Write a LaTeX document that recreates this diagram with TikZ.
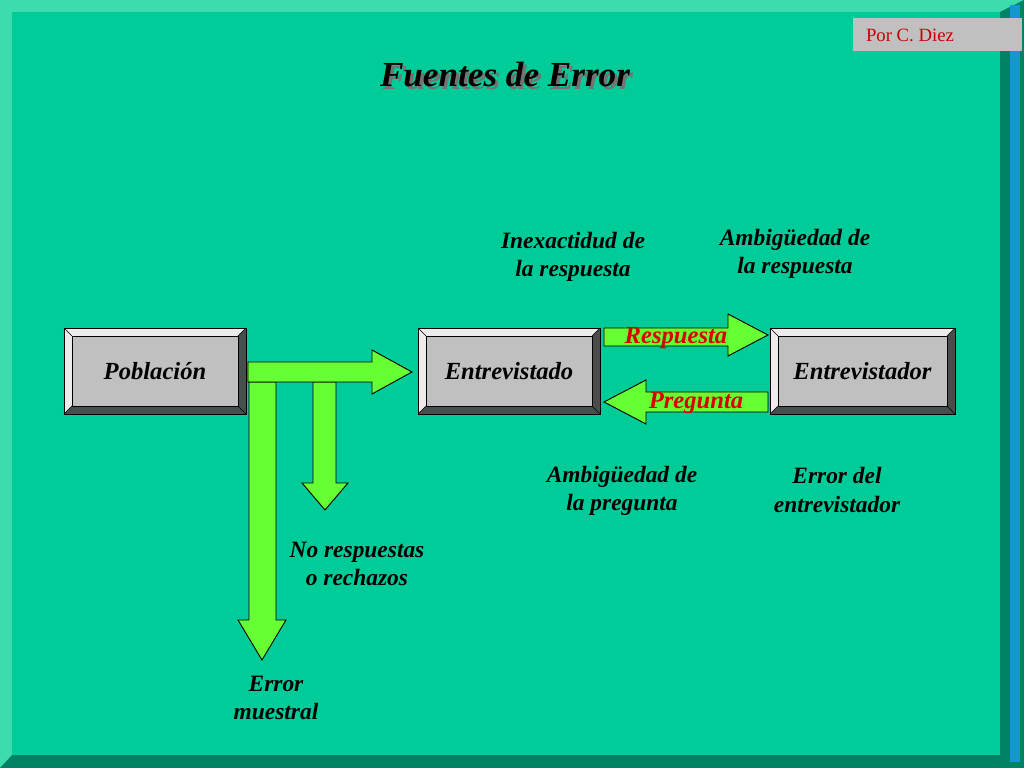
\documentclass[tikz,border=0pt]{standalone}
\usepackage{fontspec}
\setmainfont{Liberation Serif}
\usepackage{tikz}
\definecolor{bg}{RGB}{0,204,153}
\definecolor{bglight}{RGB}{60,220,175}
\definecolor{bgdark}{RGB}{0,130,100}
\definecolor{edge}{RGB}{20,150,210}
\definecolor{boxgray}{RGB}{192,192,192}
\definecolor{arrowgreen}{RGB}{102,255,51}
\tikzstyle{label}=[font=\bfseries\itshape\fontsize{20}{24}\selectfont,align=center]
\tikzstyle{boxtext}=[font=\bfseries\itshape\fontsize{21}{24}\selectfont]
\tikzstyle{blockarrow}=[fill=arrowgreen,draw=black,thick]
\newcommand{\bevelbox}[6]{%
  \fill[white!85!gray] (#2,#3) rectangle (#4,#5);
  \fill[gray!60!black] (#4,#3) -- (#4,#5) -- (#2,#5) -- (#2+8,#5-8) -- (#4-8,#5-8) -- (#4-8,#3+8) -- cycle;
  \fill[boxgray] (#2+8,#3+8) rectangle (#4-8,#5-8);
  \draw[thick] (#2,#3) rectangle (#4,#5);
  \draw (#2+8,#3+8) rectangle (#4-8,#5-8);
  \draw (#2,#3) -- (#2+8,#3+8) (#4,#3) -- (#4-8,#3+8) (#2,#5) -- (#2+8,#5-8) (#4,#5) -- (#4-8,#5-8);
  \node[boxtext] (#1) at ({(#2+#4)/2},{(#3+#5)/2}) {#6};
}
\begin{document}
\begin{tikzpicture}[x=0.03cm,y=-0.03cm]
        % frame
        \fill[bglight] (0,0) rectangle (1024,768);
        \fill[bgdark] (1000,12) -- (1024,0) -- (1024,768) -- (0,768) -- (12,755) -- (1000,755) -- cycle;
        \fill[edge] (1010,5) rectangle (1020,762);
        \fill[bg] (12,12) rectangle (1000,755);
        \fill[boxgray] (853,18) rectangle (1022,51);
        \node[text=red!80!black,font=\fontsize{16}{18}\selectfont] (author) at (910,35) {Por C. Diez};

        % title
        \node[font=\bfseries\itshape\fontsize{30}{34}\selectfont,text=black!55] at (508,78) {Fuentes de Error};
        \node[font=\bfseries\itshape\fontsize{30}{34}\selectfont] (title) at (505,75) {Fuentes de Error};

        % boxes
        \bevelbox{pob}{64}{328}{246}{414}{Población}
        \bevelbox{entdo}{418}{328}{600}{414}{Entrevistado}
        \bevelbox{entdor}{770}{328}{955}{414}{Entrevistador}

        % block arrows
        \draw[blockarrow] (249,382) -- (249,620) -- (238,620) -- (262,660) -- (286,620) -- (276,620) -- (276,382) -- cycle;
        \draw[blockarrow] (313,382) -- (313,483) -- (302,483) -- (325,510) -- (348,483) -- (336,483) -- (336,382) -- cycle;
        \draw[blockarrow] (248,362) -- (372,362) -- (372,350) -- (412,372) -- (372,394) -- (372,382) -- (248,382) -- cycle;
        \draw[blockarrow] (604,328) -- (728,328) -- (728,314) -- (768,335) -- (728,356) -- (728,346) -- (604,346) -- cycle;
        \draw[blockarrow] (768,392) -- (646,392) -- (646,380) -- (604,402) -- (646,424) -- (646,412) -- (768,412) -- cycle;
        \node[boxtext,text=red!85!black] (resp) at (676,338) {Respuesta};
        \node[boxtext,text=red!85!black] (preg) at (696,403) {Pregunta};

        % labels
        \node[label] (inex) at (573,257) {Inexactidud de\\la respuesta};
        \node[label] (ambr) at (795,254) {Ambigüedad de\\la respuesta};
        \node[label] (ambp) at (622,491) {Ambigüedad de\\la pregunta};
        \node[label] (errent) at (837,490) {Error del\\entrevistador};
        \node[label] (nores) at (357,564) {No respuestas\\o rechazos};
        \node[label] (errmue) at (276,698) {Error\\muestral};
    \end{tikzpicture}
\end{document}
